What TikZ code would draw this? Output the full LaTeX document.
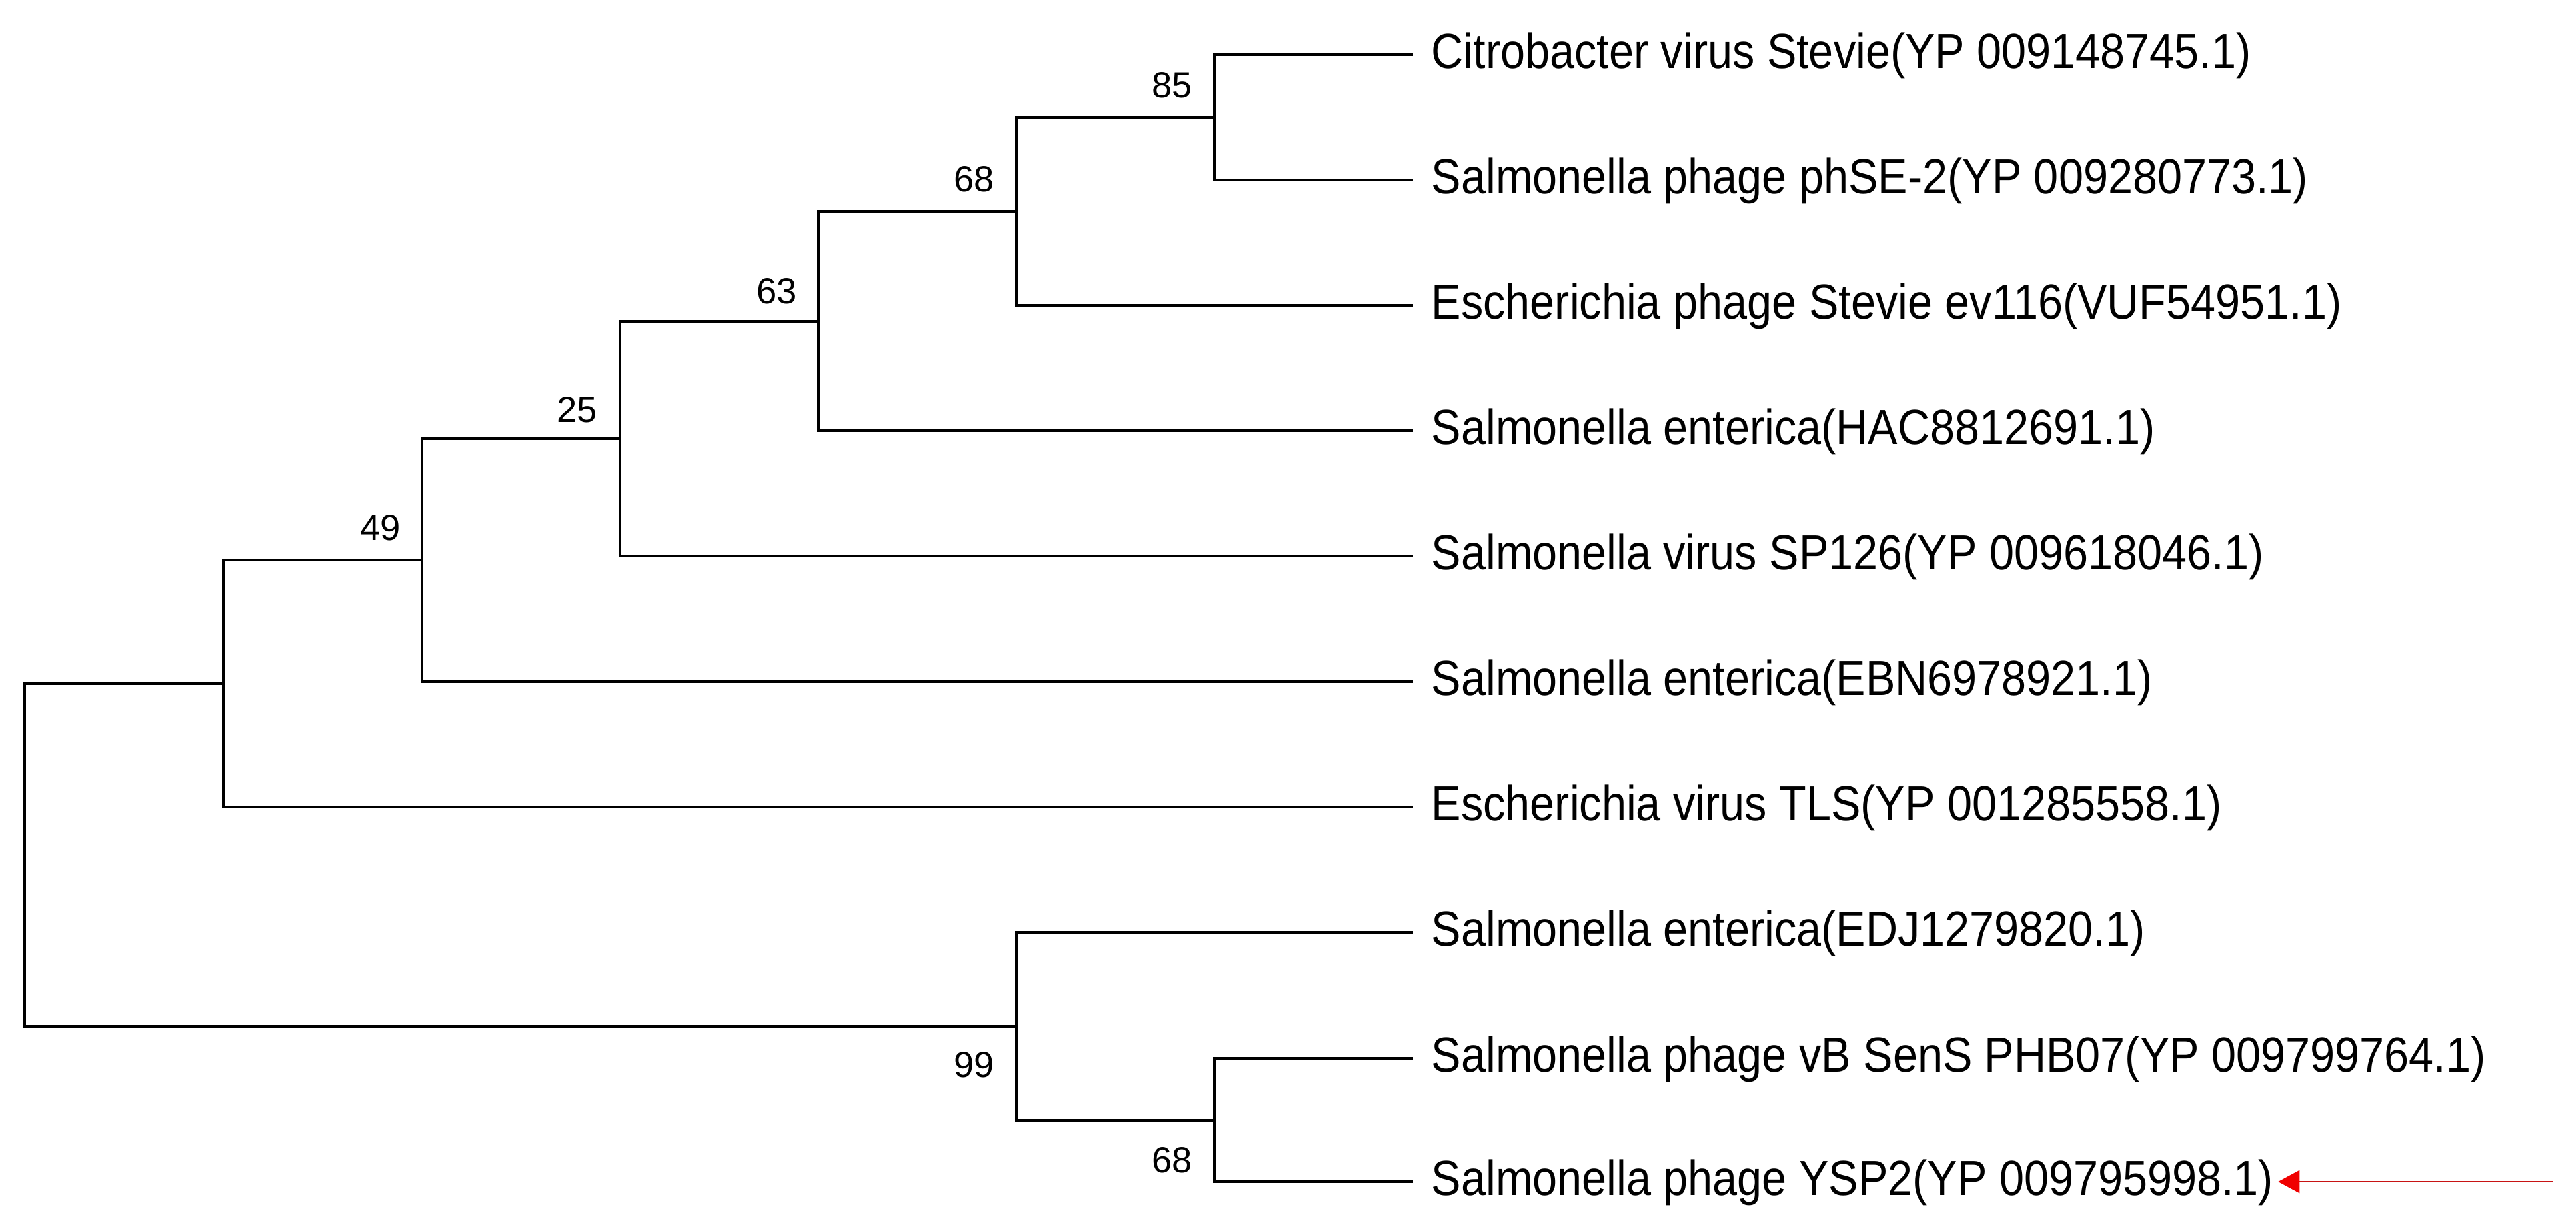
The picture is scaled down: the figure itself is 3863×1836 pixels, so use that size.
\documentclass[tikz,border=0pt]{standalone}
\usepackage{fontspec}
\setmainfont{Liberation Sans}
\newfontfamily\leaffont[FakeStretch=0.9]{Liberation Sans}
\usetikzlibrary{arrows.meta}
\definecolor{arrline}{RGB}{200,20,20}
\definecolor{arrtip}{RGB}{240,0,0}
\tikzset{
  branch/.style={draw=black, line width=1pt, line join=miter},
  leaflabel/.style={anchor=base west, inner sep=0pt, font=\leaffont\fontsize{18.5pt}{20pt}\selectfont},
  bootup/.style={anchor=base east, inner sep=0pt, font=\fontsize{13.6pt}{15pt}\selectfont},
  marker/.style={draw=arrline, line width=0.55pt, -{Triangle[length=8pt,width=8.5pt,color=arrtip]}},
}
\begin{document}
\begin{tikzpicture}[x=0.25pt, y=-0.25pt]
\useasboundingbox (0,0) rectangle (3863,1836);
% internal nodes
\coordinate (n85) at (1821,176);
\coordinate (n68) at (1524,317);
\coordinate (n63) at (1227,482);
\coordinate (n25) at (930,658);
\coordinate (n49) at (633,840);
\coordinate (nA) at (335,1025);
\coordinate (nR) at (37,1282);
\coordinate (n99) at (1524,1539);
\coordinate (n68b) at (1821,1680);
% leaf ends
\coordinate (e1) at (2119,82);
\coordinate (e2) at (2119,270);
\coordinate (e3) at (2119,458);
\coordinate (e4) at (2119,646);
\coordinate (e5) at (2119,834);
\coordinate (e6) at (2119,1022);
\coordinate (e7) at (2119,1210);
\coordinate (e8) at (2119,1398);
\coordinate (e9) at (2119,1587);
\coordinate (e10) at (2119,1772);
% leaf labels
\node[leaflabel] (l1) at (2146,102) {Citrobacter virus Stevie(YP 009148745.1)};
\node[leaflabel] (l2) at (2146,290) {Salmonella phage phSE-2(YP 009280773.1)};
\node[leaflabel] (l3) at (2146,478) {Escherichia phage Stevie ev116(VUF54951.1)};
\node[leaflabel] (l4) at (2146,666) {Salmonella enterica(HAC8812691.1)};
\node[leaflabel] (l5) at (2146,854) {Salmonella virus SP126(YP 009618046.1)};
\node[leaflabel] (l6) at (2146,1042) {Salmonella enterica(EBN6978921.1)};
\node[leaflabel] (l7) at (2146,1230) {Escherichia virus TLS(YP 001285558.1)};
\node[leaflabel] (l8) at (2146,1418) {Salmonella enterica(EDJ1279820.1)};
\node[leaflabel] (l9) at (2146,1607) {Salmonella phage vB SenS PHB07(YP 009799764.1)};
\node[leaflabel] (l10) at (2146,1792) {Salmonella phage YSP2(YP 009795998.1)};
% branches
\draw[branch] (n85) |- (e1);
\draw[branch] (n85) |- (e2);
\draw[branch] (n68) |- (n85);
\draw[branch] (n68) |- (e3);
\draw[branch] (n63) |- (n68);
\draw[branch] (n63) |- (e4);
\draw[branch] (n25) |- (n63);
\draw[branch] (n25) |- (e5);
\draw[branch] (n49) |- (n25);
\draw[branch] (n49) |- (e6);
\draw[branch] (nA) |- (n49);
\draw[branch] (nA) |- (e7);
\draw[branch] (nR) |- (nA);
\draw[branch] (nR) |- (n99);
\draw[branch] (n99) |- (e8);
\draw[branch] (n99) |- (n68b);
\draw[branch] (n68b) |- (e9);
\draw[branch] (n68b) |- (e10);
% bootstrap values
\node[bootup] (b85) at (1789,146) {85};
\node[bootup] (b68) at (1492,287) {68};
\node[bootup] (b63) at (1196,455) {63};
\node[bootup] (b25) at (897,633) {25};
\node[bootup] (b49) at (602,810) {49};
\node[bootup] (b99) at (1492,1615) {99};
\node[bootup] (b68b) at (1789,1758) {68};
% red marker arrow
\coordinate (arrS) at (3828,1772);
\draw[marker] (arrS) -- ([xshift=1.5pt]l10.east |- e10);
\end{tikzpicture}
\end{document}
